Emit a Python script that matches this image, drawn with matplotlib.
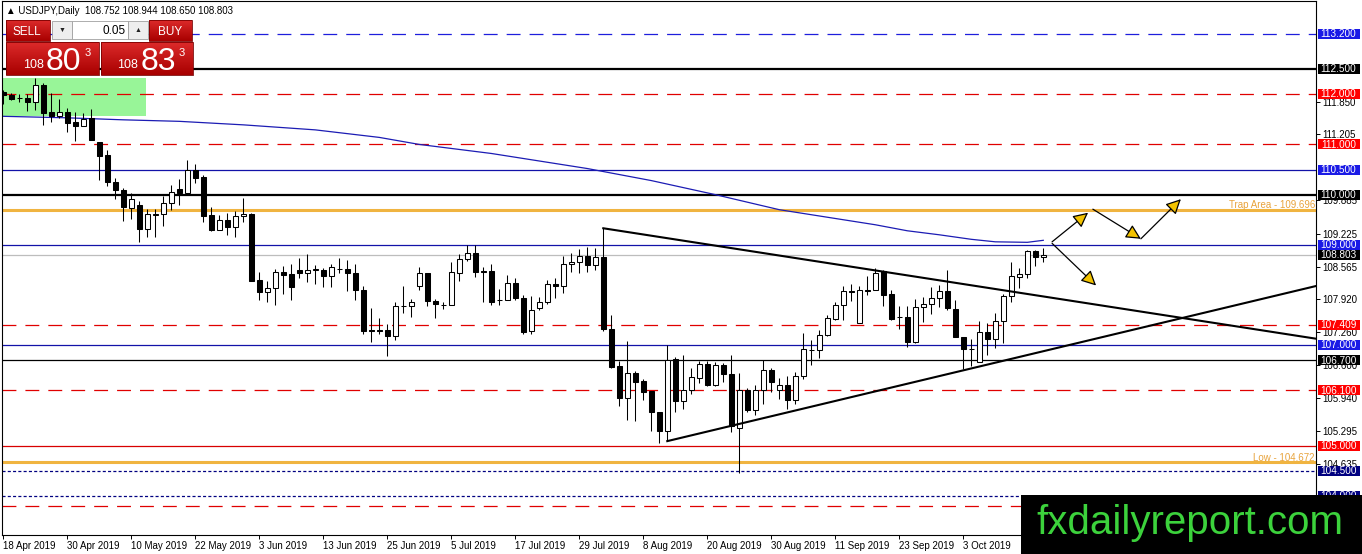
import matplotlib.pyplot as plt
import numpy as np
from matplotlib.patches import Rectangle
from matplotlib.colors import LinearSegmentedColormap

plt.rcParams['font.family'] = ['Liberation Sans', 'DejaVu Sans']
plt.rcParams['lines.scale_dashes'] = False

# ---------------- data ----------------
dates = ['18 Apr 2019', '30 Apr 2019', '10 May 2019', '22 May 2019', '3 Jun 2019',
         '13 Jun 2019', '25 Jun 2019', '5 Jul 2019', '17 Jul 2019', '29 Jul 2019',
         '8 Aug 2019', '20 Aug 2019', '30 Aug 2019', '11 Sep 2019', '23 Sep 2019',
         '3 Oct 2019']
date_bars = [0, 8, 16, 24, 32, 40, 48, 56, 64, 72, 80, 88, 96, 104, 112, 120]

opens = [112.05, 111.99, 111.92, 111.93, 111.85, 112.18, 111.64, 111.56, 111.65, 111.44,
         111.36, 111.52, 111.04, 110.78, 110.26, 110.10, 109.74, 109.79, 109.31, 109.60,
         109.61, 109.84, 110.12, 110.04, 110.49, 110.35, 109.60, 109.29, 109.50, 109.35,
         109.58, 109.62, 108.29, 108.06, 108.14, 108.45, 108.41, 108.49, 108.44, 108.50,
         108.50, 108.37, 108.52, 108.52, 108.44, 108.11, 107.31, 107.31, 107.30, 107.18,
         107.78, 107.78, 108.17, 108.44, 107.89, 107.81, 107.80, 108.44, 108.72, 108.83,
         108.47, 108.48, 107.90, 107.90, 108.24, 107.94, 107.28, 107.75, 107.86, 108.22,
         108.17, 108.62, 108.66, 108.77, 108.59, 108.75, 107.33, 106.58, 105.95, 106.45,
         106.28, 106.08, 105.68, 105.29, 106.73, 105.88, 106.10, 106.35, 106.62, 106.21,
         106.60, 106.42, 105.36, 106.11, 105.71, 106.11, 106.50, 106.11, 106.20, 105.91,
         106.39, 106.90, 106.90, 107.21, 107.52, 107.81, 108.08, 107.45, 108.11, 108.11,
         108.47, 108.03, 107.57, 107.57, 107.07, 107.77, 107.83, 107.94, 108.08, 107.73,
         107.17, 106.93, 106.67, 107.26, 107.12, 107.48, 107.99, 108.36, 108.41, 108.87,
         108.752]
highs = [112.08, 112.02, 112.00, 112.00, 112.32, 112.22, 112.03, 111.90, 111.72, 111.64,
         111.62, 111.70, 111.04, 110.88, 110.34, 110.14, 110.04, 109.87, 109.71, 109.71,
         109.97, 110.20, 110.32, 110.68, 110.62, 110.39, 109.75, 109.60, 109.64, 109.67,
         109.93, 109.64, 108.45, 108.28, 108.52, 108.57, 108.62, 108.74, 108.82, 108.59,
         108.54, 108.61, 108.74, 108.70, 108.62, 108.17, 107.75, 107.55, 107.43, 107.86,
         108.17, 107.93, 108.55, 108.44, 107.93, 107.86, 108.66, 108.82, 109.00, 109.00,
         108.55, 108.62, 108.13, 108.39, 108.33, 108.00, 107.99, 107.97, 108.30, 108.34,
         108.77, 108.83, 108.92, 108.95, 108.93, 109.33, 107.60, 106.69, 107.09, 106.48,
         106.33, 106.08, 105.68, 107.00, 106.76, 106.80, 106.55, 106.68, 106.68, 106.66,
         106.64, 106.81, 106.44, 106.15, 106.20, 106.70, 106.54, 106.35, 106.39, 106.46,
         107.25, 107.10, 107.30, 107.61, 107.86, 108.18, 108.22, 108.18, 108.38, 108.54,
         108.50, 108.11, 107.79, 107.79, 107.92, 107.96, 108.16, 108.19, 108.49, 107.91,
         107.17, 107.12, 107.48, 107.44, 107.65, 108.03, 108.65, 108.54, 108.89, 108.89,
         108.944]
lows = [111.80, 111.89, 111.84, 111.66, 111.69, 111.39, 111.44, 111.52, 111.24, 111.06,
        111.36, 111.08, 110.30, 110.17, 109.91, 109.48, 109.51, 109.05, 109.15, 109.16,
        109.37, 109.70, 109.80, 110.04, 110.24, 109.46, 109.27, 109.29, 109.20, 109.15,
        109.46, 108.28, 107.90, 107.86, 107.81, 108.03, 107.90, 108.34, 108.26, 108.21,
        108.16, 108.16, 108.44, 108.08, 107.91, 107.22, 107.07, 107.22, 106.79, 107.10,
        107.65, 107.56, 108.11, 107.78, 107.55, 107.73, 107.80, 108.27, 108.68, 108.35,
        107.86, 107.81, 107.81, 107.90, 107.91, 107.22, 107.22, 107.71, 107.82, 107.95,
        108.04, 108.46, 108.44, 108.46, 108.50, 107.28, 106.55, 105.78, 105.52, 105.50,
        105.90, 105.29, 105.05, 105.09, 105.67, 105.72, 106.02, 106.24, 106.19, 106.19,
        106.26, 105.28, 104.46, 105.67, 105.62, 105.82, 106.07, 105.93, 105.73, 105.82,
        106.32, 106.60, 106.75, 107.19, 107.50, 107.50, 107.89, 107.45, 108.00, 108.10,
        107.79, 107.50, 107.32, 106.97, 107.04, 107.46, 107.63, 107.77, 107.71, 107.17,
        106.52, 106.59, 106.66, 106.80, 106.95, 107.04, 107.86, 108.14, 108.34, 108.57,
        108.650]
closes = [111.98, 111.90, 111.93, 111.85, 112.18, 111.62, 111.56, 111.65, 111.43, 111.36,
          111.50, 111.08, 110.77, 110.25, 110.09, 109.76, 109.92, 109.31, 109.61, 109.62,
          109.84, 110.05, 110.03, 110.49, 110.34, 109.58, 109.29, 109.50, 109.35, 109.58,
          109.62, 108.28, 108.06, 108.14, 108.45, 108.39, 108.16, 108.43, 108.49, 108.51,
          108.37, 108.56, 108.52, 108.44, 108.10, 107.28, 107.28, 107.28, 107.18, 107.79,
          107.79, 107.86, 108.44, 107.88, 107.83, 107.81, 108.46, 108.72, 108.83, 108.46,
          108.45, 107.86, 107.90, 108.24, 107.94, 107.27, 107.71, 107.86, 108.22, 108.17,
          108.62, 108.66, 108.77, 108.59, 108.75, 107.33, 106.56, 105.95, 106.45, 106.27,
          106.07, 105.67, 105.29, 106.71, 105.88, 106.10, 106.36, 106.62, 106.21, 106.60,
          106.42, 105.40, 106.11, 105.71, 106.11, 106.50, 106.26, 106.20, 105.91, 106.39,
          106.92, 106.91, 107.21, 107.54, 107.81, 108.09, 108.07, 108.11, 108.09, 108.44,
          108.01, 107.53, 107.56, 107.07, 107.77, 107.83, 107.94, 108.08, 107.75, 107.17,
          106.92, 106.92, 107.26, 107.12, 107.48, 107.98, 108.37, 108.41, 108.87, 108.76,
          108.803]

# moving average (bar index, price)
ma_bars = [0, 8, 15, 22, 30, 39, 47, 52, 61, 73, 81, 89, 97, 109, 113, 117, 121, 124, 128, 130]
ma_vals = [111.56, 111.53, 111.49, 111.46, 111.39, 111.29, 111.14, 111.00, 110.82, 110.52,
           110.28, 110.00, 109.70, 109.40, 109.28, 109.20, 109.11, 109.06, 109.05, 109.09]

# horizontal levels and how each one is drawn
levels = [113.2, 112.5, 112.0, 111.0, 110.5, 110.0, 109.696, 109.0, 108.803,
          107.409, 107.0, 106.7, 106.1, 105.0, 104.672, 104.5, 104.0, 103.8]
level_kind = ['blue_dash', 'black_thick', 'red_dash', 'red_dash', 'blue', 'black_thick',
              'orange', 'blue', 'gray', 'red_dash', 'blue', 'black', 'red_dash', 'red',
              'orange', 'navy_dot', 'navy_dot', 'red_dash']
level_notes = {109.696: 'Trap Area - 109.696', 104.672: 'Low - 104.672'}

yticks = [111.850, 111.205, 109.885, 109.225, 108.565, 107.920,
          107.260, 106.600, 105.940, 105.295, 104.635]

# triangle lines (bar, price)
trend_a_x, trend_a_y = [75, 164.1], [109.33, 107.13]
trend_b_x, trend_b_y = [83, 164.1], [105.09, 108.18]

# scenario arrows: (start bar, start price, end bar, end price)
arrows = [(131.1, 109.06, 135.6, 109.64),
          (131.1, 109.03, 136.6, 108.19),
          (136.2, 109.71, 142.2, 109.12),
          (142.2, 109.12, 147.2, 109.91)]

zone_x = (-0.5, 17.8)
zone_y = (111.56, 112.33)

header = '\u25b2 USDJPY,Daily  108.752 108.944 108.650 108.803'

# ---------------- styles ----------------
dash = (0, (10, 6.5))
dot = (0, (2.2, 1.6))
styles = {
    'blue_dash':   dict(color='#1E1EDC', ls=dash, lw=0.9, box='#1A1AE6'),
    'black_thick': dict(color='black', ls='-', lw=1.6, box='black'),
    'red_dash':    dict(color='#E00000', ls=dash, lw=0.9, box='#FF0000'),
    'blue':        dict(color='#1212A8', ls='-', lw=0.9, box='#1A1AE6'),
    'orange':      dict(color='#F0B440', ls='-', lw=2.2, box=None),
    'gray':        dict(color='#BDBDBD', ls='-', lw=0.9, box='black'),
    'black':       dict(color='black', ls='-', lw=0.9, box='black'),
    'red':         dict(color='#D80000', ls='-', lw=0.9, box='#FF0000'),
    'navy_dot':    dict(color='#000080', ls=dot, lw=0.9, box='#000080'),
}

W, H = 1362, 554
L, R, T, B = 2, 1316, 1, 535
fig = plt.figure(figsize=(W / 100, H / 100), dpi=100)
ax = fig.add_axes([L / W, 1 - B / H, (R - L) / W, (B - T) / H])
ax.set_xlim(-0.16, 164.09)
ax.set_ylim(103.22, 113.857)

# green zone
ax.add_patch(Rectangle((zone_x[0], zone_y[0]), zone_x[1] - zone_x[0], zone_y[1] - zone_y[0],
                       facecolor='#98F598', edgecolor='none', zorder=0.5))

# levels
ytr = ax.get_yaxis_transform()
for lev, kind in zip(levels, level_kind):
    st = styles[kind]
    ax.axhline(lev, color=st['color'], linestyle=st['ls'], linewidth=st['lw'], zorder=1)
    if st['box'] is not None:
        ax.add_patch(Rectangle((1.0012, lev - 0.1), 0.032, 0.2, transform=ytr,
                               facecolor=st['box'], edgecolor='none', clip_on=False, zorder=10))
        ax.text(1.0012 + 0.016, lev - 0.005, f'{lev:.3f}', transform=ytr, color='white',
                fontsize=7.2, ha='center', va='center', clip_on=False, zorder=11)
    if lev in level_notes:
        ax.text(0.9992, lev + 0.03, level_notes[lev], transform=ytr, color='#E8A33C',
                fontsize=7, ha='right', va='baseline', zorder=2)

# moving average
ax.plot(ma_bars, ma_vals, color='#1C1CB4', linewidth=0.9, zorder=2)

# candles
x = np.arange(len(opens))
o, h, l, c = map(np.array, (opens, highs, lows, closes))
up = c >= o
ax.vlines(x, l, h, color='black', linewidth=0.75, zorder=3)
ax.bar(x, np.abs(c - o), bottom=np.minimum(o, c), width=0.6,
       color=np.where(up, 'white', 'black'), edgecolor='black', linewidth=0.75, zorder=4)

# triangle
ax.plot(trend_a_x, trend_a_y, color='black', linewidth=1.5, zorder=5)
ax.plot(trend_b_x, trend_b_y, color='black', linewidth=1.5, zorder=5)

# arrows
for x0, y0, x1, y1 in arrows:
    ax.annotate('', xy=(x1, y1), xytext=(x0, y0),
                arrowprops=dict(arrowstyle='-|>,head_length=0.9,head_width=0.45',
                                fc='#F2C200', ec='black', lw=0.9,
                                shrinkA=0, shrinkB=0), zorder=6)

# axes cosmetics
for sp in ax.spines.values():
    sp.set_linewidth(0.8)
    sp.set_color('black')
ax.set_xticks(date_bars)
ax.set_xticklabels(dates, fontsize=7, ha='left')
ax.tick_params(axis='x', length=3, width=0.7, pad=1, colors='black')
ax.yaxis.tick_right()
ax.set_yticks(yticks)
ax.set_yticklabels([f'{v:.3f}' for v in yticks], fontsize=7)
ax.tick_params(axis='y', length=3, width=0.7, pad=1.5)

# ---------------- overlay in pixel coordinates ----------------
ov = fig.add_axes([0, 0, 1, 1], zorder=10)
ov.patch.set_visible(False)
ov.axis('off')

red_grad = LinearSegmentedColormap.from_list('rg', ['#DC2A2A', '#A80000'])
grad = np.linspace(0, 1, 32).reshape(-1, 1)


def red_box(x0, y0, x1, y1):
    ov.imshow(grad, cmap=red_grad, extent=(x0, x1, y1, y0), aspect='auto', zorder=1)
    ov.add_patch(Rectangle((x0, y0), x1 - x0, y1 - y0, facecolor='none',
                           edgecolor='#7A0000', linewidth=0.6, zorder=2))


red_box(6, 20, 50, 41)
red_box(149, 20, 192, 41)
red_box(6, 42, 99, 75)
red_box(101, 42, 193, 75)
ov.add_patch(Rectangle((52, 21), 20, 18, facecolor='#EEEEEE', edgecolor='#A0A0A0', lw=0.6, zorder=2))
ov.add_patch(Rectangle((72, 21), 56, 18, facecolor='white', edgecolor='#A0A0A0', lw=0.6, zorder=2))
ov.add_patch(Rectangle((128, 21), 20, 18, facecolor='#EEEEEE', edgecolor='#A0A0A0', lw=0.6, zorder=2))

wtxt = dict(color='white', va='baseline', ha='center', zorder=3)
ov.text(27, 35, 'SELL', fontsize=8.5, **wtxt)
ov.text(170, 35, 'BUY', fontsize=8.5, **wtxt)
ov.text(62, 32, '\u25bc', fontsize=5, color='#222222', ha='center', va='baseline', zorder=3)
ov.text(138, 32, '\u25b2', fontsize=5, color='#222222', ha='center', va='baseline', zorder=3)
ov.text(126, 34, '0.05', fontsize=8.5, color='black', ha='right', va='baseline', zorder=3)
ov.text(33, 68, '108', fontsize=9, **wtxt)
ov.text(63.5, 70, '80', fontsize=23, **wtxt)
ov.text(88, 55.5, '3', fontsize=8, **wtxt)
ov.text(127, 68, '108', fontsize=9, **wtxt)
ov.text(158.5, 70, '83', fontsize=23, **wtxt)
ov.text(182, 55.5, '3', fontsize=8, **wtxt)

ov.text(6, 13.5, header, fontsize=7, color='black', ha='left', va='baseline', zorder=3)

# watermark
ov.add_patch(Rectangle((1021, 495), W - 1021, H - 495, facecolor='black', edgecolor='none', zorder=4))
ov.text(1190, 534, 'fxdailyreport.com', color='#3CD23C', fontsize=29,
        ha='center', va='baseline', zorder=5)

ov.set_xlim(0, W)
ov.set_ylim(H, 0)

fig.savefig('out.png', dpi=100)
